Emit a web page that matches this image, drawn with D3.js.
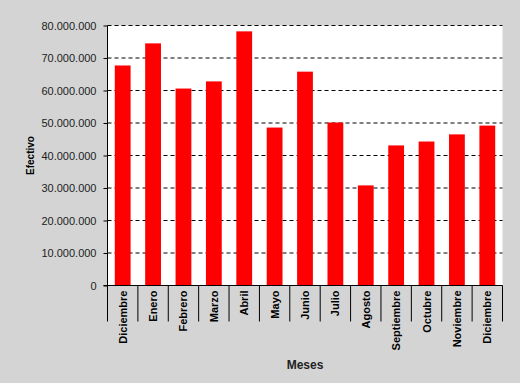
<!DOCTYPE html>
<html><head><meta charset="utf-8">
<script src="https://cdn.jsdelivr.net/npm/d3@7"></script>
<style>
html,body{margin:0;padding:0;background:#d4d4d4;}
svg{display:block;}
text{font-family:Arial,"Liberation Sans",sans-serif;}
</style></head>
<body>
<svg id="chart" width="520" height="383"></svg>
<script>
const categories = ["Diciembre","Enero","Febrero","Marzo","Abril","Mayo","Junio","Julio","Agosto","Septiembre","Octubre","Noviembre","Diciembre"];
const values = [67700000,74500000,60600000,62800000,78200000,48600000,65800000,50150000,30800000,43100000,44300000,46500000,49200000];
const yTicks = [0,10000000,20000000,30000000,40000000,50000000,60000000,70000000,80000000];
const yTitle = "Efectivo";
const xTitle = "Meses";

const svg = d3.select("#chart");
const pL = 107.5, pR = 502.5, pT = 25.5, pB = 285.5;

svg.append("rect").attr("width",520).attr("height",383).attr("fill","#d4d4d4");
svg.append("rect").attr("x",pL).attr("y",pT).attr("width",pR-pL).attr("height",pB-pT).attr("fill","#ffffff");

const idx = categories.map((d,i)=>i);
const x = d3.scaleBand().domain(idx).range([pL,pR]).paddingInner(0.48).paddingOuter(0.24);
const y = d3.scaleLinear().domain([0,80000000]).range([pB,pT]);
const fmt = v => d3.format(",")(v).replace(/,/g,".");

// gridlines
svg.append("g").selectAll("line").data(yTicks.filter(t=>t>0)).join("line")
  .attr("x1",pL).attr("x2",pR)
  .attr("y1",d=>y(d)).attr("y2",d=>y(d))
  .attr("stroke","#000").attr("stroke-width",1).attr("stroke-dasharray","4,3");

// bars
svg.append("g").selectAll("rect").data(values).join("rect")
  .attr("x",(d,i)=>x(i)).attr("width",x.bandwidth())
  .attr("y",d=>y(d)).attr("height",d=>pB-y(d))
  .attr("fill","#ff0000");

// y axis
const yAxis = d3.axisLeft(y).tickValues(yTicks).tickFormat(fmt).tickSize(4).tickPadding(7);
const gy = svg.append("g").attr("transform",`translate(${pL},0)`).call(yAxis);
gy.select(".domain").attr("d",`M0,${pT}V${pB}`).attr("stroke","#000");
gy.selectAll(".tick line").attr("stroke","#000");
gy.selectAll("text").attr("font-size",11).attr("fill","#222")
  .attr("font-family","Arial, 'Liberation Sans', sans-serif");

// x axis baseline and separators
const step = x.step();
svg.append("line").attr("x1",pL-4).attr("x2",pR).attr("y1",pB).attr("y2",pB).attr("stroke","#000");
svg.append("g").selectAll("line").data(d3.range(categories.length+1)).join("line")
  .attr("x1",i=>pL+i*step).attr("x2",i=>pL+i*step)
  .attr("y1",pB).attr("y2",pB+36).attr("stroke","#000");

// x labels
svg.append("g").selectAll("text").data(categories).join("text")
  .attr("transform",(d,i)=>`translate(${x(i)+x.bandwidth()/2+4},${pB+5}) rotate(-90)`)
  .attr("text-anchor","end").attr("font-size",11).attr("font-weight","bold").attr("fill","#000")
  .text(d=>d);

// titles
svg.append("text").attr("transform",`translate(34,${(pT+pB)/2}) rotate(-90)`)
  .attr("text-anchor","middle").attr("font-size",10).attr("font-weight","bold").attr("fill","#000").text(yTitle);
svg.append("text").attr("x",(pL+pR)/2).attr("y",369)
  .attr("text-anchor","middle").attr("font-size",12).attr("font-weight","bold").attr("fill","#222").text(xTitle);
</script>
</body></html>
